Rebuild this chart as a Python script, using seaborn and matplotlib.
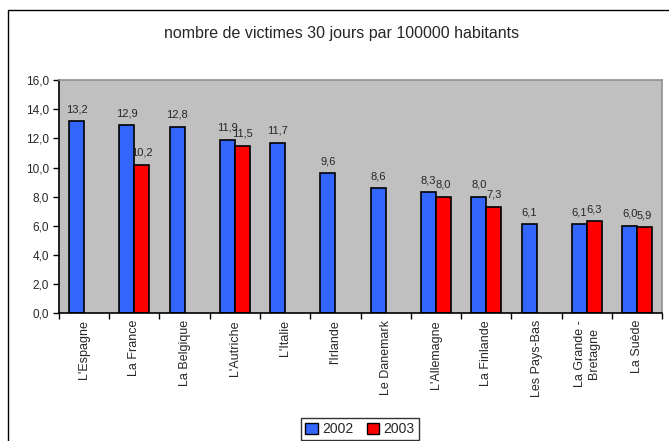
import numpy as np
import pandas as pd
import matplotlib
matplotlib.use('Agg')
import matplotlib.pyplot as plt
import matplotlib.patches as mpatches
import seaborn as sns

# Data
pays = ["L'Espagne", 'La France', 'La Belgique', "L'Autriche", "L'Italie", "l'Irlande",
        'Le Danemark', "L'Allemagne", 'La Finlande', 'Les Pays-Bas', 'La Grande -\nBretagne', 'La Suède']
val_2002 = [13.2, 12.9, 12.8, 11.9, 11.7, 9.6, 8.6, 8.3, 8.0, 6.1, 6.1, 6.0]
val_2003 = [np.nan, 10.2, np.nan, 11.5, np.nan, np.nan, np.nan, 8.0, 7.3, np.nan, 6.3, 5.9]
annees = ['2002', '2003']
couleurs = {'2002': '#3366ff', '2003': '#ff0000'}

df = pd.DataFrame({
    'pays': pays * 2,
    'annee': ['2002'] * len(pays) + ['2003'] * len(pays),
    'valeur': val_2002 + val_2003,
})

sns.set_style('white')
plt.rcParams['font.family'] = ['Liberation Sans', 'DejaVu Sans']

fig = plt.figure(figsize=(6.69, 4.41), dpi=100, facecolor='w')
ax = fig.add_axes([0.088, 0.29, 0.902, 0.528])
ax.set_facecolor('#c0c0c0')

sns.barplot(ax=ax, data=df, x='pays', y='valeur', hue='annee', hue_order=annees,
            order=pays, palette=couleurs, width=0.6, saturation=1, errorbar=None,
            edgecolor='black', linewidth=1.2, legend=False)

for cont in ax.containers:
    ax.bar_label(cont, fmt=lambda v: '' if np.isnan(v) else '{:.1f}'.format(v).replace('.', ','),
                 padding=5, fontsize=8)

ax.set_xlim(-0.5, len(pays) - 0.5)
ax.set_ylim(0, 16)
ax.set_yticks(np.arange(0, 17, 2))
ax.set_yticklabels(['{:.1f}'.format(v).replace('.', ',') for v in np.arange(0, 17, 2)], fontsize=8.5)
ax.tick_params(axis='y', length=4, width=1, color='black', direction='out', left=True, pad=3)
ax.set_xticks(range(len(pays)))
ax.set_xticklabels(pays, rotation=90, fontsize=9, va='top', ha='center', linespacing=1.2)
ax.tick_params(axis='x', which='major', length=0, pad=5)
ax.set_xticks(np.arange(-0.5, len(pays)), minor=True)
ax.tick_params(axis='x', which='minor', length=4, width=1, color='black', direction='out', bottom=True)
ax.set_xlabel('')
ax.set_ylabel('')

for s in ['left', 'bottom']:
    ax.spines[s].set_color('black')
    ax.spines[s].set_linewidth(1.2)
for s in ['top', 'right']:
    ax.spines[s].set_color('#909090')
    ax.spines[s].set_linewidth(1.2)

fig.text(0.51, 0.925, 'nombre de victimes 30 jours par 100000 habitants', ha='center', va='center', fontsize=11.5)

handles = [mpatches.Patch(facecolor=couleurs[a], edgecolor='black', label=a) for a in annees]
fig.legend(handles=handles, loc='upper center', bbox_to_anchor=(0.538, 0.052), ncol=2,
           fontsize=10, frameon=True, fancybox=False, edgecolor='black', handlelength=0.9,
           handleheight=0.9, handletextpad=0.3, columnspacing=1.0, borderpad=0.3, borderaxespad=0)

# outer frame of the chart
fig.patches.append(mpatches.Rectangle((0.012, -0.01), 1.0, 0.987, transform=fig.transFigure,
                                      fill=False, edgecolor='black', linewidth=1))

fig.savefig('out.png', dpi=100)
